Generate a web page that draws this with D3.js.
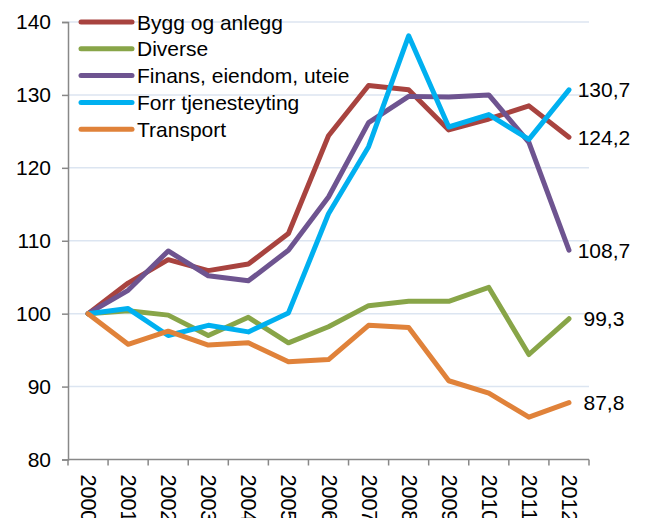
<!DOCTYPE html>
<html lang="no">
<head>
<meta charset="UTF-8">
<title>Indeks 2000 = 100</title>
<script src="https://d3js.org/d3.v7.min.js"></script>
<style>
    body { margin: 0; background: #fff; }
    svg text { font-family: "Liberation Sans", Arial, sans-serif; fill: #000; }
</style>
</head>
<body>
<div id="chart"></div>
<script>
// data
const years = ["2000", "2001", "2002", "2003", "2004", "2005", "2006", "2007", "2008", "2009", "2010", "2011", "2012"];
const seriesNames = ["Bygg og anlegg", "Diverse", "Finans, eiendom, uteie", "Forr tjenesteyting", "Transport"];
const bygg      = [100, 104.2, 107.4, 105.9, 106.8, 111.0, 124.4, 131.3, 130.7, 125.2, 126.7, 128.5, 124.2];
const diverse   = [100, 100.4, 99.8, 97.0, 99.5, 96.0, 98.2, 101.1, 101.7, 101.7, 103.6, 94.4, 99.3];
const finans    = [100, 103.2, 108.6, 105.2, 104.5, 108.7, 116.0, 126.2, 129.8, 129.7, 130.0, 123.5, 108.7];
const forr      = [100, 100.7, 97.0, 98.4, 97.5, 100.1, 113.7, 122.9, 138.1, 125.6, 127.3, 123.9, 130.7];
const transport = [100, 95.8, 97.6, 95.7, 96.0, 93.4, 93.7, 98.4, 98.1, 90.8, 89.1, 85.8, 87.8];
const yTicks = [80, 90, 100, 110, 120, 130, 140];

const colors = ["#A8433F", "#88A548", "#6E5490", "#00B0F0", "#E0823A"];
const values = [bygg, diverse, finans, forr, transport];

const width = 646, height = 518;
const plotL = 68, plotR = 589, plotT = 22, plotB = 459.5;

const svg = d3.select("#chart").append("svg")
    .attr("width", width)
    .attr("height", height);

const x = d3.scaleBand().domain(years).range([plotL, plotR]);
const cx = d => x(d) + x.bandwidth() / 2;
const y = d3.scaleLinear().domain([80, 140]).range([plotB, plotT]);

// gridlines
svg.append("g")
    .selectAll("line")
    .data(yTicks.filter(t => t > 80))
    .join("line")
    .attr("x1", plotL).attr("x2", plotR)
    .attr("y1", d => y(d)).attr("y2", d => y(d))
    .attr("stroke", "#DCE5F1")
    .attr("stroke-width", 1.5);

// y axis
const yAxis = svg.append("g")
    .attr("transform", `translate(${plotL},0)`)
    .call(d3.axisLeft(y).tickValues(yTicks).tickSize(6).tickPadding(11));
yAxis.select(".domain").attr("stroke", "#888").attr("stroke-width", 1.5);
yAxis.selectAll(".tick line").attr("stroke", "#888").attr("stroke-width", 1.5);
yAxis.selectAll("text").style("font-size", "21px").attr("fill", "#000");

// x axis: ticks at band edges
const xg = svg.append("g");
xg.append("line")
    .attr("x1", plotL).attr("x2", plotR)
    .attr("y1", plotB).attr("y2", plotB)
    .attr("stroke", "#888").attr("stroke-width", 1.5);
const edges = years.map(d => x(d)).concat([plotR]);
xg.selectAll(".xt")
    .data(edges)
    .join("line")
    .attr("class", "xt")
    .attr("x1", d => d).attr("x2", d => d)
    .attr("y1", plotB).attr("y2", plotB + 6)
    .attr("stroke", "#888").attr("stroke-width", 1.5);
xg.selectAll(".xl")
    .data(years)
    .join("text")
    .attr("class", "xl")
    .attr("transform", d => `translate(${cx(d)},${plotB + 15}) rotate(90)`)
    .attr("dominant-baseline", "central")
    .style("font-size", "21.5px")
    .text(d => d);

// lines
const line = d3.line()
    .x((d, i) => cx(years[i]))
    .y(d => y(d));

svg.append("g")
    .selectAll("path")
    .data(values)
    .join("path")
    .attr("d", d => line(d))
    .attr("fill", "none")
    .attr("stroke", (d, i) => colors[i])
    .attr("stroke-width", 5)
    .attr("stroke-linejoin", "round")
    .attr("stroke-linecap", "round");

// end labels
const fmt = v => v.toFixed(1).replace(".", ",");
svg.append("g")
    .selectAll("text")
    .data(values)
    .join("text")
    .attr("x", cx(years[years.length - 1]) + 35)
    .attr("y", d => y(d[d.length - 1]))
    .attr("text-anchor", "middle")
    .attr("dominant-baseline", "central")
    .style("font-size", "21px")
    .text(d => fmt(d[d.length - 1]));

// legend
const lg = svg.append("g");
const rowH = 26.8;
seriesNames.forEach((name, i) => {
    const ly = 22 + i * rowH;
    lg.append("line")
        .attr("x1", 81).attr("x2", 132)
        .attr("y1", ly).attr("y2", ly)
        .attr("stroke", colors[i])
        .attr("stroke-width", 5)
        .attr("stroke-linecap", "round");
    lg.append("text")
        .attr("x", 137)
        .attr("y", ly)
        .attr("dominant-baseline", "central")
        .style("font-size", "21px")
        .text(name);
});
</script>
</body>
</html>
